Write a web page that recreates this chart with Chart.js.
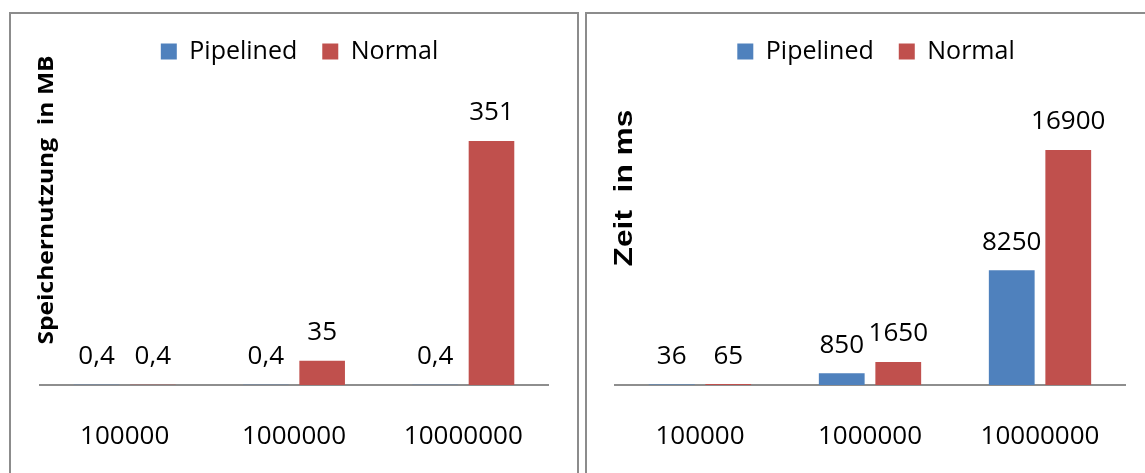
<!DOCTYPE html>
<html lang="de">
<head>
<meta charset="UTF-8">
<title>Pipelined vs Normal</title>
<script src="https://cdn.jsdelivr.net/npm/chart.js"></script>
<style>
  body { margin: 0; background: #fff; width: 1145px; height: 473px; overflow: hidden; position: relative; }
  .panel { position: absolute; top: 12px; height: 470px; border: 2px solid #8c8c8c; box-sizing: border-box; }
  #leftPanel { left: 9px; width: 570px; }
  #rightPanel { left: 585px; width: 570px; }
  canvas { position: absolute; left: 0; top: 0; }
</style>
</head>
<body>
<div class="panel" id="leftPanel"><canvas id="memChart" width="566" height="459"></canvas></div>
<div class="panel" id="rightPanel"><canvas id="timeChart" width="558" height="459"></canvas></div>
<script>
// data
const categories = ['100000', '1000000', '10000000'];
const seriesNames = ['Pipelined', 'Normal'];
const memPipelined = [0.4, 0.4, 0.4];
const memNormal = [0.4, 35, 351];
const timePipelined = [36, 850, 8250];
const timeNormal = [65, 1650, 16900];

const BLUE = '#4F81BD';
const RED = '#C0504D';
const FONT = "'Open Sans', sans-serif";

// numbers above bars, German decimal comma
const valueLabels = {
    id: 'valueLabels',
    afterDatasetsDraw(chart) {
        const ctx = chart.ctx;
        ctx.save();
        ctx.font = '26px ' + FONT;
        ctx.fillStyle = '#000';
        ctx.textAlign = 'center';
        ctx.textBaseline = 'middle';
        chart.data.datasets.forEach((ds, i) => {
            chart.getDatasetMeta(i).data.forEach((bar, j) => {
                ctx.fillText(String(ds.data[j]).replace('.', ','), bar.x, bar.y - 28);
            });
        });
        ctx.restore();
    }
};

// rotated y title, placed like the Excel one (not centred on the plot)
const yTitle = {
    id: 'yTitle',
    afterDraw(chart, args, opts) {
        const ctx = chart.ctx;
        ctx.save();
        ctx.translate(opts.x, opts.y);
        ctx.rotate(-Math.PI / 2);
        ctx.scale(opts.stretch, 1);
        ctx.font = opts.font;
        ctx.fillStyle = '#000';
        ctx.textAlign = 'center';
        ctx.textBaseline = 'middle';
        ctx.fillText(opts.text, 0, 0);
        ctx.restore();
    }
};

// legend sits higher and a bit to the right of where Chart.js puts it
const legendSpace = {
    id: 'legendSpace',
    beforeInit(chart) {
        const fit = chart.legend.fit;
        chart.legend.fit = function () {
            fit.bind(chart.legend)();
            this.height = 93;
        };
    },
    afterLayout(chart) {
        chart.legend.left += 20;
        chart.legend.right += 20;
    }
};

function makeChart(id, pipelined, normal, yMax, padRight, yWidth, title) {
    return new Chart(document.getElementById(id), {
        type: 'bar',
        data: {
            labels: categories,
            datasets: [
                { label: seriesNames[0], data: pipelined, backgroundColor: BLUE },
                { label: seriesNames[1], data: normal, backgroundColor: RED }
            ]
        },
        options: {
            responsive: false,
            animation: false,
            devicePixelRatio: 1,
            layout: { padding: { left: 0, right: padRight, top: 0, bottom: 0 } },
            datasets: { bar: { barPercentage: 0.81, categoryPercentage: 0.665 } },
            scales: {
                x: {
                    grid: { display: false, drawTicks: false },
                    border: { display: true, color: '#8e8e8e', width: 2 },
                    ticks: { color: '#000', font: { family: FONT, size: 26 }, padding: 36 },
                    afterFit(scale) { scale.height = 88; }
                },
                y: {
                    min: 0,
                    max: yMax,
                    grid: { display: false, drawTicks: false },
                    border: { display: false },
                    ticks: { display: false },
                    afterFit(scale) { scale.width = yWidth; }
                }
            },
            plugins: {
                legend: {
                    position: 'top',
                    labels: {
                        color: '#000',
                        font: { family: FONT, size: 25 },
                        boxWidth: 16,
                        boxHeight: 16,
                        padding: 25
                    }
                },
                tooltip: { enabled: false },
                yTitle: title
            }
        },
        plugins: [legendSpace, valueLabels, yTitle]
    });
}

makeChart('memChart', memPipelined, memNormal, 400, 29, 29,
    { text: 'Speichernutzung  in MB', font: "bold 21px 'Open Sans', sans-serif", stretch: 1.17, x: 36, y: 186 });
makeChart('timeChart', timePipelined, timeNormal, 20000, 20, 28,
    { text: 'Zeit  in ms', font: "bold 26px 'Liberation Sans', sans-serif", stretch: 1.22, x: 38, y: 174 });
</script>
</body>
</html>
